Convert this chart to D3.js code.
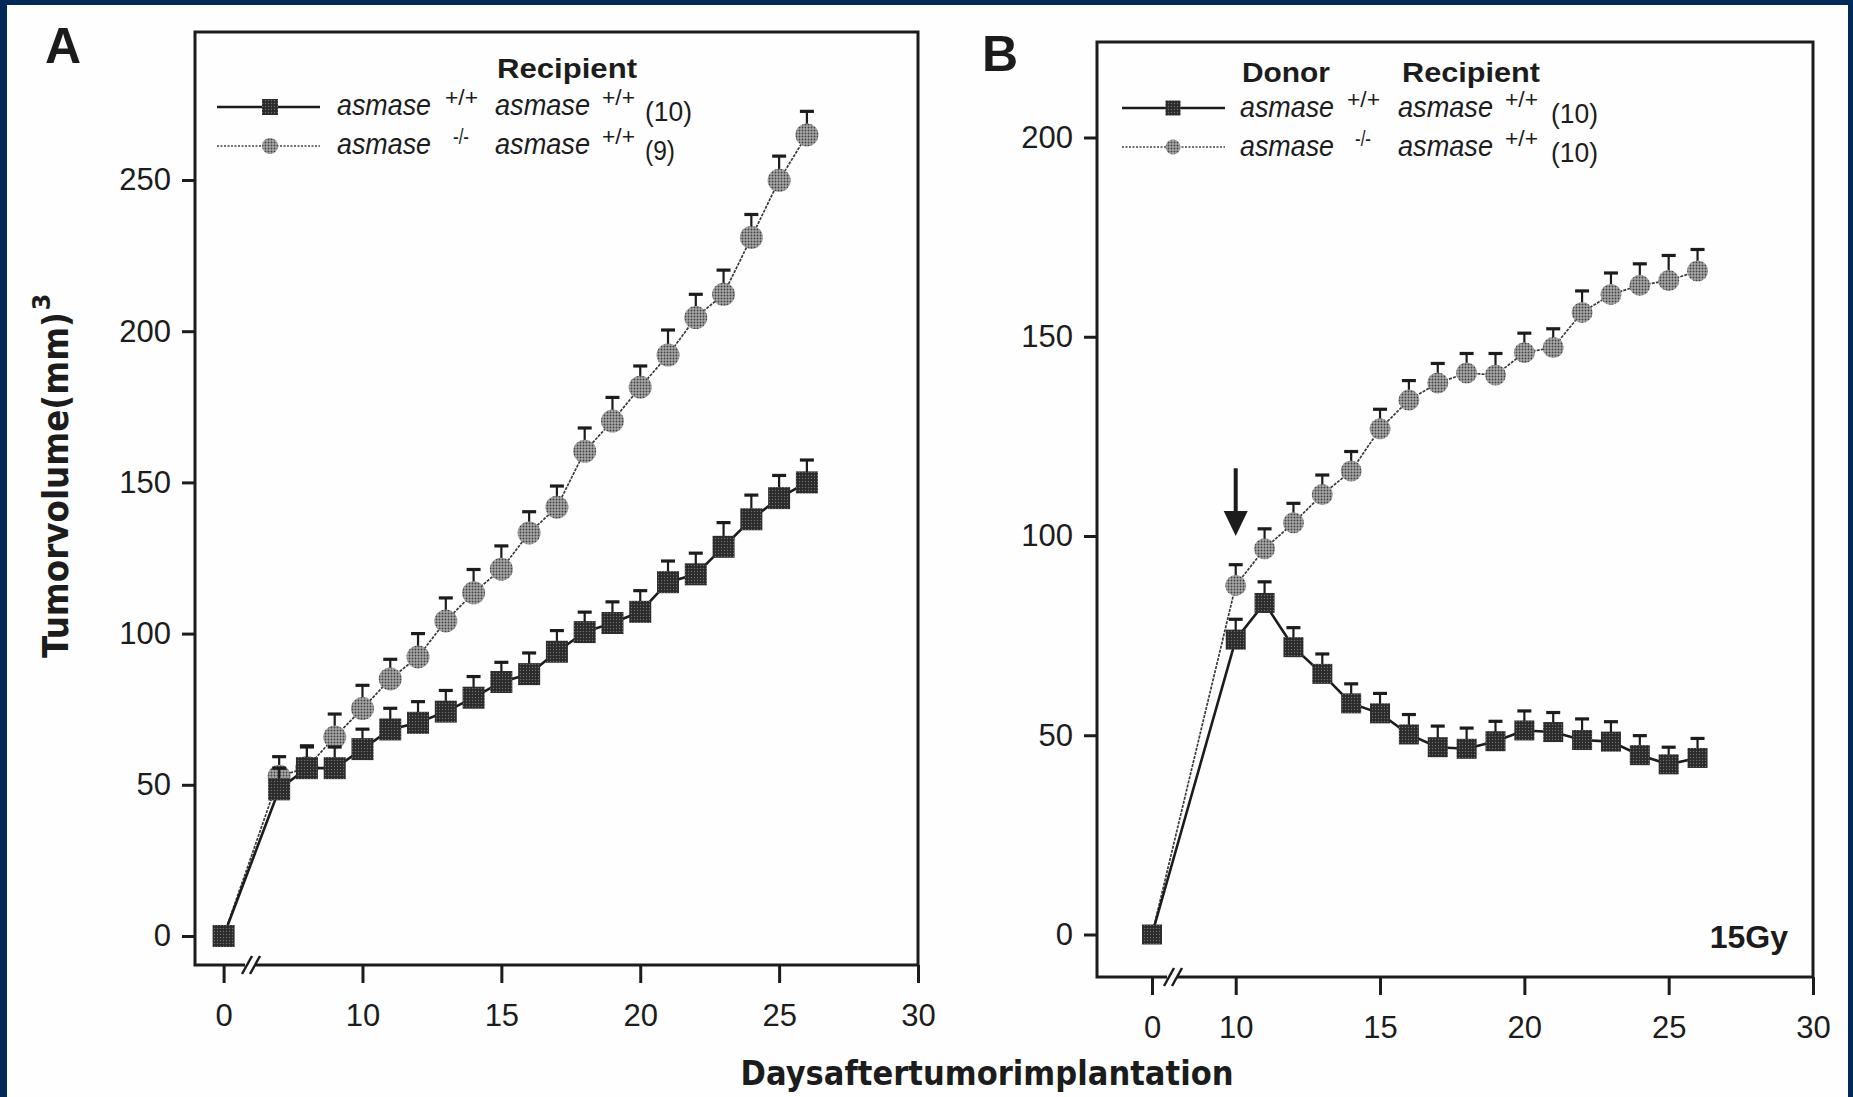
<!DOCTYPE html>
<html><head><meta charset="utf-8">
<script src="https://cdn.jsdelivr.net/npm/d3@7"></script>
<style>
html,body{margin:0;padding:0;background:#022a58;}
svg{display:block;}
</style></head><body>
<svg id="c" width="1853" height="1097"></svg>
<script>
// ---------- data ----------
const daysA = [0,7,8,9,10,11,12,13,14,15,16,17,18,19,20,21,22,23,24,25,26];
const volA_wt = [0,48.5,55.5,55.5,61.8,68.3,70.5,74.2,78.8,84,86.6,94,100.5,103.5,107.2,117,119.6,128.7,137.8,144.8,150];
const errA_wt = [0,7,7,7,6.6,7,7,7,7,6.5,7,7,6.6,7,7,7,7,8,8,7.5,7.4];
const volA_ko = [0,52.8,55.7,65.8,75.2,85,92.3,104.2,113.5,121.3,133.3,141.8,160.3,170.3,181.5,192.1,204.5,212.2,231,249.9,264.9];
const errA_ko = [0,6.5,7.2,7.6,7.7,6.5,7.7,7.6,7.7,7.7,7,7,7.7,7.8,7,8.3,7.7,8,7.6,8,7.8];

const daysB = [0,10,11,12,13,14,15,16,17,18,19,20,21,22,23,24,25,26];
const volB_wt = [0,74,83.2,72.1,65.4,58,55.5,50.2,47,46.6,48.5,51.2,50.8,48.8,48.4,45,42.7,44.3];
const errB_wt = [0,5.1,5.3,4.9,5,4.9,5,5,5.3,5.2,5,4.9,4.9,5.3,5,4.9,4.3,4.9];
const volB_ko = [0,87.6,96.8,103.3,110.4,116.3,126.9,134.1,138.4,140.9,140.4,146,147.3,156.1,160.6,162.9,164.1,166.5];
const errB_ko = [0,5.2,5,4.9,4.9,4.9,4.9,4.9,4.9,4.9,5.4,4.9,4.7,5.4,5.4,5.4,6.3,5.4];

const xTickValues = [0,10,15,20,25,30];
const yTicksA = [0,50,100,150,200,250];
const yTicksB = [0,50,100,150,200];
const arrowB = {day:10, from:117, to:100};

const legendA = {header:["Recipient"], rows:[
  {donor:"asmase", dSup:"+/+", rec:"asmase", rSup:"+/+", n:"(10)"},
  {donor:"asmase", dSup:"-/-", rec:"asmase", rSup:"+/+", n:"(9)"}]};
const legendB = {header:["Donor","Recipient"], rows:[
  {donor:"asmase", dSup:"+/+", rec:"asmase", rSup:"+/+", n:"(10)"},
  {donor:"asmase", dSup:"-/-", rec:"asmase", rSup:"+/+", n:"(10)"}]};

const xLabel = "Daysaftertumorimplantation";
const yLabel = "Tumorvolume(mm)";

// ---------- drawing ----------
const svg = d3.select("#c");
svg.append("rect").attr("width",1853).attr("height",1097).attr("fill","#022a58");
svg.append("rect").attr("x",7).attr("y",5).attr("width",1841).attr("height",1092).attr("fill","#fefefe");

const defs = svg.append("defs");
const pd = defs.append("pattern").attr("id","pDark").attr("width",3).attr("height",3).attr("patternUnits","userSpaceOnUse");
pd.append("rect").attr("width",3).attr("height",3).attr("fill","#2a2a2a");
pd.append("circle").attr("cx",1.5).attr("cy",1.5).attr("r",0.7).attr("fill","#707070");
const pg = defs.append("pattern").attr("id","pGray").attr("width",3).attr("height",3).attr("patternUnits","userSpaceOnUse");
pg.append("rect").attr("width",3).attr("height",3).attr("fill","#a8a8a8");
pg.append("circle").attr("cx",1.5).attr("cy",1.5).attr("r",0.95).attr("fill","#424242");

const ink = "#1c1c1c";
const tickFont = "'Liberation Sans', Arial, sans-serif";

function series(days, vals, errs){ return days.map((d,i)=>({day:d, v:vals[i], e:errs[i]})); }

function panel(cfg){
  const g = svg.append("g");
  const f = cfg.frame;
  const x = d3.scaleLinear().domain([cfg.breakPos, 30]).range([cfg.x0px, f.x1]);
  const y = d3.scaleLinear().domain(cfg.yDomain).range(cfg.yRange);
  const pos = d => d === 0 ? cfg.breakPos : d;

  const ya = g.append("g").attr("transform",`translate(${f.x0},0)`)
    .call(d3.axisLeft(y).tickValues(cfg.yTicks).tickSize(13).tickPadding(11));
  const xa = g.append("g").attr("transform",`translate(0,${f.y1})`)
    .call(d3.axisBottom(x).tickValues(xTickValues.map(pos)).tickFormat((d,i)=>String(xTickValues[i])).tickSize(18).tickPadding(21));
  [ya,xa].forEach(a=>{
    a.select(".domain").remove();
    a.selectAll(".tick line").attr("stroke",ink).attr("stroke-width",3);
    a.selectAll(".tick text").attr("fill",ink).style("font-family",tickFont).style("font-size","31px");
  });
  g.append("rect").attr("x",f.x0).attr("y",f.y0).attr("width",f.x1-f.x0).attr("height",f.y1-f.y0)
    .attr("fill","none").attr("stroke",ink).attr("stroke-width",3);
  const bx = cfg.breakX;
  g.append("rect").attr("x",bx-7).attr("y",f.y1-3).attr("width",10).attr("height",6).attr("fill","#fefefe");
  [-6,2].forEach(o=>{
    g.append("line").attr("x1",bx+o-4).attr("y1",f.y1+9).attr("x2",bx+o+6).attr("y2",f.y1-9)
      .attr("stroke",ink).attr("stroke-width",2.5);
  });

  const line = d3.line().x(d=>x(pos(d.day))).y(d=>y(d.v));
  const draw = (data, kind)=>{
    if(kind==="ko"){
      g.append("path").datum(data).attr("d",line).attr("fill","none").attr("stroke","#3a3a3a")
        .attr("stroke-width",1.7).attr("stroke-dasharray","3,1.2");
    } else {
      g.append("path").datum(data).attr("d",line).attr("fill","none").attr("stroke",ink).attr("stroke-width",2.6);
    }
    const eb = data.filter(d=>d.e>0);
    g.selectAll(null).data(eb).join("line")
      .attr("x1",d=>x(pos(d.day))).attr("x2",d=>x(pos(d.day)))
      .attr("y1",d=>y(d.v)).attr("y2",d=>y(d.v+d.e)).attr("stroke",ink).attr("stroke-width",2.2);
    g.selectAll(null).data(eb).join("line")
      .attr("x1",d=>x(pos(d.day))-7).attr("x2",d=>x(pos(d.day))+7)
      .attr("y1",d=>y(d.v+d.e)).attr("y2",d=>y(d.v+d.e)).attr("stroke",ink).attr("stroke-width",3.2);
    const s = cfg.mSize;
    if(kind==="ko"){
      g.selectAll(null).data(data.filter(d=>d.day>0)).join("circle")
        .attr("cx",d=>x(pos(d.day))).attr("cy",d=>y(d.v)).attr("r",s/2+0.5).attr("fill","url(#pGray)");
    } else {
      g.selectAll(null).data(data).join("rect")
        .attr("x",d=>x(pos(d.day))-s/2).attr("y",d=>y(d.v)-s/2).attr("width",s).attr("height",s)
        .attr("fill","url(#pDark)");
    }
  };
  draw(cfg.ko, "ko");
  draw(cfg.wt, "wt");

  g.append("text").attr("x",cfg.letterPos[0]).attr("y",cfg.letterPos[1]).text(cfg.letter)
    .attr("fill",ink).style("font-family","'Liberation Sans', Arial, sans-serif").style("font-weight","bold").style("font-size","50px");

  const L = cfg.legend, lp = cfg.legendPos;
  L.header.forEach((h,i)=>{
    g.append("text").attr("x",lp.headX[i]).attr("y",lp.headY).text(h)
      .attr("textLength",lp.headW[i]).attr("lengthAdjust","spacingAndGlyphs")
      .attr("fill",ink).style("font-family",tickFont).style("font-weight","bold").style("font-size","28px");
  });
  L.rows.forEach((r,i)=>{
    const ly = lp.rowY[i];
    const lineEl = g.append("line").attr("x1",lp.lineX[0]).attr("x2",lp.lineX[1]).attr("y1",ly).attr("y2",ly);
    if(i===0){
      lineEl.attr("stroke",ink).attr("stroke-width",2.6);
      g.append("rect").attr("x",lp.mX-lp.mS/2).attr("y",ly-lp.mS/2).attr("width",lp.mS).attr("height",lp.mS).attr("fill","url(#pDark)");
    } else {
      lineEl.attr("stroke","#444").attr("stroke-width",1.6).attr("stroke-dasharray","2,1.5");
      g.append("circle").attr("cx",lp.mX).attr("cy",ly).attr("r",lp.mS/2).attr("fill","url(#pGray)");
    }
    const base = ly + lp.txtDy;
    const it = (t,xx,w)=>g.append("text").attr("x",xx).attr("y",base).text(t)
      .attr("textLength",w).attr("lengthAdjust","spacingAndGlyphs")
      .attr("fill",ink).style("font-family",tickFont).style("font-style","italic").style("font-size","30px");
    const sup = (t,xx,w)=>g.append("text").attr("x",xx).attr("y",base-10).text(t)
      .attr("textLength",w).attr("lengthAdjust","spacingAndGlyphs")
      .attr("fill",ink).style("font-family",tickFont).style("font-size","22px");
    it(r.donor, lp.c1, 94);
    sup(r.dSup, r.dSup==="-/-" ? lp.s1+8 : lp.s1, r.dSup==="-/-" ? 16 : 33);
    it(r.rec, lp.c2, 95);
    sup(r.rSup, lp.s2, 33);
    g.append("text").attr("x",lp.nX).attr("y",base+6).text(r.n)
      .attr("textLength",r.n.length===4?47:30).attr("lengthAdjust","spacingAndGlyphs")
      .attr("fill",ink).style("font-family",tickFont).style("font-size","28px");
  });
  return {g,x,y,pos};
}

const A = panel({
  letter:"A", letterPos:[45,63],
  frame:{x0:195,x1:918,y0:32,y1:965}, breakPos:5, x0px:223.6, breakX:252,
  yDomain:[0,250], yRange:[936,180], yTicks:yTicksA, mSize:22,
  wt:series(daysA,volA_wt,errA_wt), ko:series(daysA,volA_ko,errA_ko),
  legend:legendA,
  legendPos:{headX:[497], headW:[140], headY:78, rowY:[107,146], lineX:[217,320], mX:270, mS:16, txtDy:8,
    c1:337, s1:445, c2:495, s2:602, nX:645}
});

const B = panel({
  letter:"B", letterPos:[982,71],
  frame:{x0:1097,x1:1813,y0:42,y1:977}, breakPos:7.1, x0px:1152, breakX:1174,
  yDomain:[0,200], yRange:[934.5,137.5], yTicks:yTicksB, mSize:20,
  wt:series(daysB,volB_wt,errB_wt), ko:series(daysB,volB_ko,errB_ko),
  legend:legendB,
  legendPos:{headX:[1242,1402], headW:[88,138], headY:82, rowY:[108,147], lineX:[1122,1225], mX:1173, mS:15, txtDy:9,
    c1:1240, s1:1347, c2:1398, s2:1505, nX:1551}
});

const ax = B.x(B.pos(arrowB.day));
B.g.append("line").attr("x1",ax).attr("x2",ax).attr("y1",B.y(arrowB.from)).attr("y2",B.y(arrowB.to)-20)
  .attr("stroke",ink).attr("stroke-width",4);
B.g.append("path").attr("d",`M${ax-12},${B.y(arrowB.to)-25} L${ax+12},${B.y(arrowB.to)-25} L${ax},${B.y(arrowB.to)} Z`).attr("fill",ink);

B.g.append("text").attr("x",1788).attr("y",948).attr("text-anchor","end").text("15Gy")
  .attr("fill",ink).style("font-family",tickFont).style("font-weight","bold").style("font-size","32px");

svg.append("text").attr("x",987).attr("y",1085).attr("text-anchor","middle").text(xLabel)
  .attr("textLength",493).attr("lengthAdjust","spacingAndGlyphs")
  .attr("fill",ink).style("font-family","'DejaVu Sans', sans-serif").style("font-weight","bold").style("font-size","33px");
svg.append("text").attr("transform","translate(68,485) rotate(-90)").attr("text-anchor","middle").text(yLabel)
  .attr("textLength",346).attr("lengthAdjust","spacingAndGlyphs")
  .attr("fill",ink).style("font-family","'DejaVu Sans', sans-serif").style("font-weight","bold").style("font-size","35px");
svg.append("text").attr("transform","translate(50,302) rotate(-90)").attr("text-anchor","middle").text("3")
  .attr("fill",ink).style("font-family","'DejaVu Sans', sans-serif").style("font-weight","bold").style("font-size","24px");
</script>
</body></html>
